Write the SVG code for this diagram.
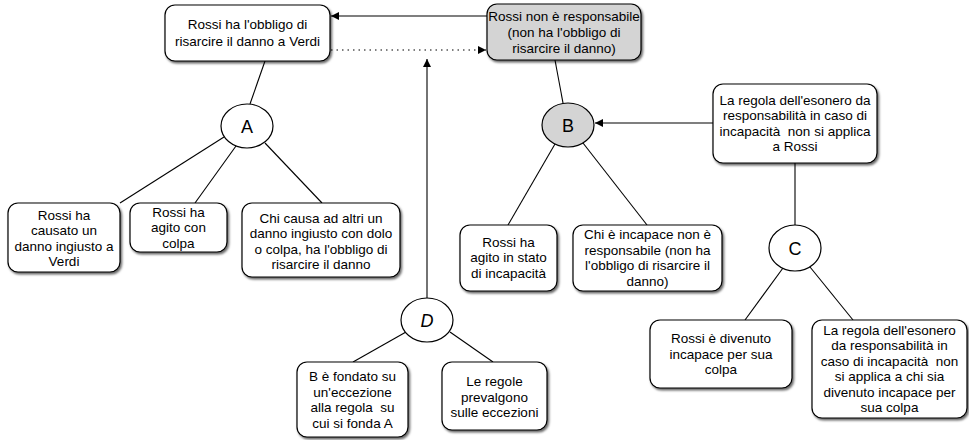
<svg xmlns="http://www.w3.org/2000/svg" width="969" height="440" viewBox="0 0 969 440">
  <defs>
    <filter id="shadow" x="-10%" y="-10%" width="130%" height="140%">
      <feDropShadow dx="1.5" dy="2" stdDeviation="1.2" flood-color="#000" flood-opacity="0.6"/>
    </filter>
    <marker id="arrow" viewBox="0 0 10 10" refX="10" refY="5" markerWidth="10" markerHeight="8" markerUnits="userSpaceOnUse" orient="auto">
      <path d="M0,0 L10,5 L0,10 z" fill="#000"/>
    </marker>
  </defs>
  <style>
    .box { fill: #fff; stroke: #000; stroke-width: 1.2; filter: url(#shadow); }
    .box.grey { fill: #d4d4d4; }
    .node { fill: #fff; stroke: #000; stroke-width: 1.2; }
    .node.grey { fill: #d4d4d4; }
    .edge { fill: none; stroke: #000; stroke-width: 1.1; }
    .dotted { stroke-dasharray: 1.5 4; }
    text { font-family: "Liberation Sans", Arial, Helvetica, sans-serif; font-size: 13.5px; fill: #000; text-anchor: middle; white-space: pre; }
    .lbl { font-size: 18px; }
    .it { font-style: italic; }
  </style>

  <!-- connectors -->
  <g id="connectors">
    <line class="edge" x1="487" y1="16" x2="331" y2="16" marker-end="url(#arrow)"/>
    <line class="edge dotted" x1="331" y1="50" x2="486" y2="50" marker-end="url(#arrow)"/>
    <line class="edge" x1="427" y1="298" x2="427" y2="59" marker-end="url(#arrow)"/>
    <line class="edge" x1="713" y1="123" x2="595" y2="123" marker-end="url(#arrow)"/>
    <line class="edge" x1="265" y1="61" x2="250" y2="104"/>
    <line class="edge" x1="224" y1="137" x2="120" y2="203"/>
    <line class="edge" x1="236" y1="146" x2="195" y2="203"/>
    <line class="edge" x1="265" y1="143" x2="322" y2="203"/>
    <line class="edge" x1="555" y1="60" x2="563" y2="103"/>
    <line class="edge" x1="555" y1="144" x2="508" y2="225"/>
    <line class="edge" x1="583" y1="143" x2="647" y2="225"/>
    <line class="edge" x1="795" y1="163" x2="795" y2="226"/>
    <line class="edge" x1="783" y1="268" x2="745" y2="320"/>
    <line class="edge" x1="810" y1="267" x2="853" y2="320"/>
    <line class="edge" x1="406" y1="332" x2="353" y2="362"/>
    <line class="edge" x1="450" y1="332" x2="493" y2="362"/>
  </g>

  <!-- top statements -->
  <g id="n-obbligo">
    <rect class="box" x="165" y="5" width="165" height="56" rx="10"/>
    <text x="247.5" y="29">Rossi ha l'obbligo di</text>
    <text x="247.5" y="45.5">risarcire il danno a Verdi</text>
  </g>
  <g id="n-non-responsabile">
    <rect class="box grey" x="487" y="4" width="154" height="56" rx="10"/>
    <text x="564" y="20.5">Rossi non è responsabile</text>
    <text x="564" y="36.5">(non ha l'obbligo di</text>
    <text x="564" y="52.5">risarcire il danno)</text>
  </g>

  <!-- argument A -->
  <g id="n-A">
    <ellipse class="node" cx="247" cy="126" rx="26" ry="22"/>
    <text class="lbl" x="247" y="132.5">A</text>
  </g>
  <g id="n-danno">
    <rect class="box" x="8" y="203" width="112" height="69" rx="10"/>
    <text x="64" y="219.5">Rossi ha</text>
    <text x="64" y="235">causato un</text>
    <text x="64" y="250.5">danno ingiusto a</text>
    <text x="64" y="266">Verdi</text>
  </g>
  <g id="n-colpa">
    <rect class="box" x="130" y="203" width="97" height="49" rx="10"/>
    <text x="178.5" y="216.5">Rossi ha</text>
    <text x="178.5" y="232">agito con</text>
    <text x="178.5" y="247.5">colpa</text>
  </g>
  <g id="n-regola-danno">
    <rect class="box" x="242" y="203" width="158" height="74" rx="10"/>
    <text x="321" y="222.5">Chi causa ad altri un</text>
    <text x="321" y="238">danno ingiusto con dolo</text>
    <text x="321" y="253.5">o colpa, ha l'obbligo di</text>
    <text x="321" y="269">risarcire il danno</text>
  </g>

  <!-- argument B -->
  <g id="n-B">
    <ellipse class="node grey" cx="568" cy="125" rx="26" ry="22"/>
    <text class="lbl" x="568" y="131.5">B</text>
  </g>
  <g id="n-incapacita">
    <rect class="box" x="460" y="225" width="97" height="66" rx="10"/>
    <text x="508.5" y="246.5">Rossi ha</text>
    <text x="508.5" y="262">agito in stato</text>
    <text x="508.5" y="277.5">di incapacità</text>
  </g>
  <g id="n-regola-incapace">
    <rect class="box" x="573" y="225" width="149" height="66" rx="10"/>
    <text x="647.5" y="239">Chi è incapace non è</text>
    <text x="647.5" y="254.5">responsabile (non ha</text>
    <text x="647.5" y="270">l'obbligo di risarcire il</text>
    <text x="647.5" y="285.5">danno)</text>
  </g>

  <!-- argument C -->
  <g id="n-esonero-rossi">
    <rect class="box" x="713" y="84" width="164" height="79" rx="10"/>
    <text x="795" y="104.5">La regola dell'esonero da</text>
    <text x="795" y="120">responsabilità in caso di</text>
    <text x="795" y="135.5">incapacità  non si applica</text>
    <text x="795" y="151">a Rossi</text>
  </g>
  <g id="n-C">
    <ellipse class="node" cx="795" cy="248" rx="26" ry="23"/>
    <text class="lbl" x="795" y="254.5">C</text>
  </g>
  <g id="n-divenuto">
    <rect class="box" x="650" y="320" width="142" height="68" rx="10"/>
    <text x="721" y="343">Rossi è divenuto</text>
    <text x="721" y="358.5">incapace per sua</text>
    <text x="721" y="374">colpa</text>
  </g>
  <g id="n-regola-esonero">
    <rect class="box" x="812" y="320" width="155" height="98" rx="10"/>
    <text x="889.5" y="334.5">La regola dell'esonero</text>
    <text x="889.5" y="350">da responsabilità in</text>
    <text x="889.5" y="365.5">caso di incapacità  non</text>
    <text x="889.5" y="381">si applica a chi sia</text>
    <text x="889.5" y="396.5">divenuto incapace per</text>
    <text x="889.5" y="412">sua colpa</text>
  </g>

  <!-- argument D -->
  <g id="n-D">
    <ellipse class="node" cx="427" cy="320" rx="26" ry="22"/>
    <text class="lbl it" x="427" y="326.5">D</text>
  </g>
  <g id="n-eccezione">
    <rect class="box" x="297" y="362" width="111" height="75" rx="10"/>
    <text x="352.5" y="381">B è fondato su</text>
    <text x="352.5" y="396.5">un'eccezione</text>
    <text x="352.5" y="412">alla regola  su</text>
    <text x="352.5" y="427.5">cui si fonda A</text>
  </g>
  <g id="n-prevalenza">
    <rect class="box" x="442" y="362" width="105" height="68" rx="10"/>
    <text x="494.5" y="386">Le regole</text>
    <text x="494.5" y="401.5">prevalgono</text>
    <text x="494.5" y="417">sulle eccezioni</text>
  </g>
</svg>
